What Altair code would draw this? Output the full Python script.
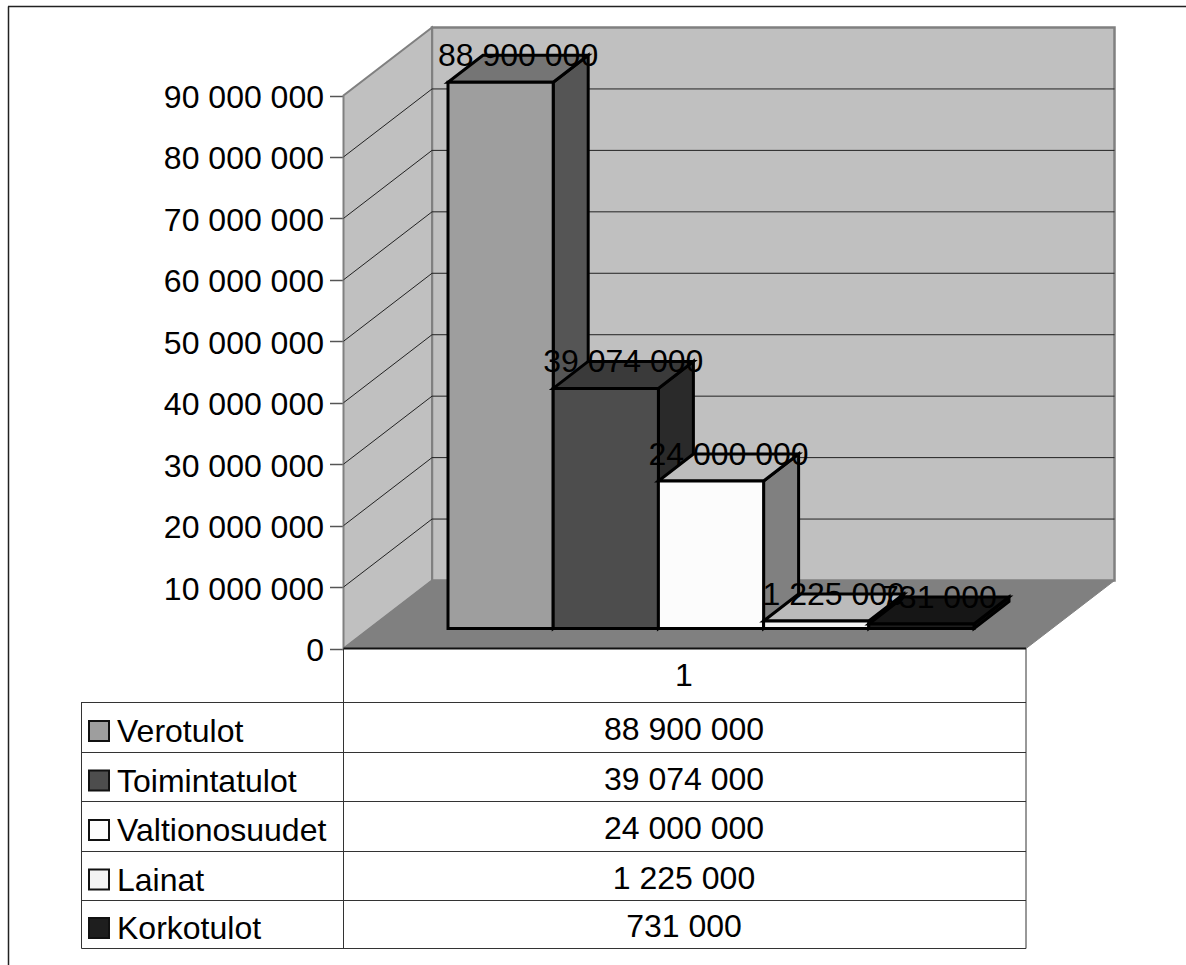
import altair as alt
import pandas as pd

# Series shown in the bars and in the data table
SERIES = ["Verotulot", "Toimintatulot", "Valtionosuudet", "Lainat", "Korkotulot"]
VALUES = [88900000, 39074000, 24000000, 1225000, 731000]
AXIS_TICKS = [0, 10000000, 20000000, 30000000, 40000000, 50000000,
              60000000, 70000000, 80000000, 90000000]
GRID_VALUES = AXIS_TICKS[1:-1]

# Shades per series: front, top and side faces of each block
FRONT = ["#9E9E9E", "#4D4D4D", "#FCFCFC", "#F3F3F3", "#1E1E1E"]
TOP = ["#757575", "#3A3A3A", "#BDBDBD", "#BBBBBB", "#161616"]
SIDE = ["#555555", "#2A2A2A", "#808080", "#777777", "#0F0F0F"]

# Canvas and projection layout
W, H = 1186, 965
FONT = "Liberation Sans"
FS = 32
ZERO_PX = 648.5
UNITS_PER_PX = 90000000 / 553.0
SLOT_PX = 105.2
FIRST_BAR_PX = 448.0


def ux(px):
    return (px - FIRST_BAR_PX) / SLOT_PX


def uy(px):
    return (ZERO_PX - px) * UNITS_PER_PX


x_scale = alt.Scale(domain=[ux(0), ux(W)], range=[0, W], nice=False, zero=False)
y_scale = alt.Scale(domain=[uy(H), uy(0)], range=[H, 0], nice=False, zero=False)

# Every layer shares this value axis, drawn on the left wall's front edge
value_axis = alt.Axis(
    values=AXIS_TICKS, title=None, domain=False, grid=False, offset=-343.5,
    tickSize=14, tickColor="#555555", tickWidth=1.5, labelPadding=6, labelOffset=2,
    labelFont=FONT, labelFontSize=FS, labelColor="#000000", labelOverlap=False,
    labelExpr="replace(format(datum.value, ','), /,/g, ' ')")

X = lambda f: alt.X(f, type="quantitative", scale=x_scale, axis=None)
Y = lambda f: alt.Y(f, type="quantitative", scale=y_scale, axis=value_axis)

# Depths of the box and of the blocks, and the blocks' setback from the front edge
WALL_L, WALL_R_FRONT = ux(343.5), ux(1026.0)
WALL_DX, WALL_DY = 88.5 / SLOT_PX, 68 * UNITS_PER_PX
BAR_DX, BAR_DY = 35.0 / SLOT_PX, 27 * UNITS_PER_PX
BAR_BASE = 20 * UNITS_PER_PX
WALL_TOP = AXIS_TICKS[-1]


def vert_face(x0, x1, low, high, rise):
    """Parallelogram with vertical edges, leaning back by `rise`."""
    return pd.DataFrame({"x": [x0, x1], "y": [low, low + rise], "y2": [high, high + rise]})


def horiz_face(x0, x1, y, dx, rise):
    """Parallelogram with horizontal edges, leaning back by (dx, rise)."""
    return pd.DataFrame({"y": [y, y + rise], "x": [x0, x0 + dx], "x2": [x1, x1 + dx]})


def v_area(df, fill, stroke, sw):
    return alt.Chart(df).mark_area(fill=fill, stroke=stroke, strokeWidth=sw, interpolate="linear",
                                   orient="vertical", opacity=1).encode(
        x=X("x"), y=Y("y"), y2=alt.Y2("y2"))


def h_area(df, fill, stroke, sw):
    return alt.Chart(df).mark_area(fill=fill, stroke=stroke, strokeWidth=sw, interpolate="linear",
                                   orient="horizontal", opacity=1).encode(
        y=Y("y"), x=X("x"), x2=alt.X2("x2"))


# Box: left wall, back wall, floor
back_x0 = WALL_L + WALL_DX
back_x1 = WALL_R_FRONT + WALL_DX
left_wall = v_area(vert_face(WALL_L, back_x0, 0, WALL_TOP, WALL_DY), "#C0C0C0", "#808080", 2)
back_wall = v_area(vert_face(back_x0, back_x1, WALL_DY, WALL_TOP + WALL_DY, 0),
                   "#C0C0C0", "#808080", 2.5)
floor = h_area(horiz_face(WALL_L, WALL_R_FRONT, 0, WALL_DX, WALL_DY), "#808080", "#808080", 1)

# Grid lines run across the left wall and along the back wall
grid_rows = []
for v in GRID_VALUES:
    grid_rows += [{"g": v, "o": 0, "x": WALL_L, "y": v},
                  {"g": v, "o": 1, "x": back_x0, "y": v + WALL_DY},
                  {"g": v, "o": 2, "x": back_x1, "y": v + WALL_DY}]
grid = alt.Chart(pd.DataFrame(grid_rows)).mark_line(color="#222222", strokeWidth=1).encode(
    x=X("x"), y=Y("y"), detail="g:N", order="o:Q")

# Line under the front of the floor
floor_edge = alt.Chart(pd.DataFrame({"x": [WALL_L], "x2": [WALL_R_FRONT], "y": [0]})).mark_rule(
    color="#111111", strokeWidth=2).encode(x=X("x"), x2=alt.X2("x2"), y=Y("y"))

# Blocks, left to right so that each one overlaps its neighbour's side
blocks = []
for i, val in enumerate(VALUES):
    low, high = BAR_BASE, BAR_BASE + val
    edge = "#000000"
    side = v_area(vert_face(i + 1, i + 1 + BAR_DX, low, high, BAR_DY), SIDE[i], edge, 3)
    top = h_area(horiz_face(i, i + 1, high, BAR_DX, BAR_DY), TOP[i], edge, 3)
    front = alt.Chart(pd.DataFrame({"x": [i], "x2": [i + 1], "y": [low], "y2": [high]})).mark_rect(
        fill=FRONT[i], stroke=edge, strokeWidth=3).encode(
        x=X("x"), x2=alt.X2("x2"), y=Y("y"), y2=alt.Y2("y2"))
    blocks += [side, top, front]


def fmt(v):
    return f"{v:,}".replace(",", " ")


value_labels = alt.Chart(pd.DataFrame({
    "x": [i + 0.5 + BAR_DX / 2 for i in range(len(VALUES))],
    "y": [BAR_BASE + v + BAR_DY for v in VALUES],
    "t": [fmt(v) for v in VALUES],
})).mark_text(font=FONT, fontSize=FS, color="#000000", align="center", baseline="middle", dy=1).encode(
    x=X("x"), y=Y("y"), text="t:N")

# Data table under the plot
ROW_EDGES = [702, 752, 801, 851, 900, 948]
TABLE_L, TABLE_M, TABLE_R = 81.5, 343.5, 1026.0
CELL_X = 684.0
LABEL_X = 117.0
SWATCH_X0, SWATCH_X1 = 89.0, 109.0

h_rules = alt.Chart(pd.DataFrame({
    "x": [ux(TABLE_L)] * len(ROW_EDGES), "x2": [ux(TABLE_R)] * len(ROW_EDGES),
    "y": [uy(e + 0.5) for e in ROW_EDGES]})).mark_rule(color="#333333", strokeWidth=1).encode(
    x=X("x"), x2=alt.X2("x2"), y=Y("y"))
v_rules = alt.Chart(pd.DataFrame({
    "x": [ux(TABLE_L), ux(TABLE_M), ux(TABLE_R)],
    "y": [uy(ROW_EDGES[0]), 0, 0],
    "y2": [uy(ROW_EDGES[-1] + 0.5)] * 3})).mark_rule(color="#333333", strokeWidth=1).encode(
    x=X("x"), y=Y("y"), y2=alt.Y2("y2"))

centres = [(a + b) / 2 for a, b in zip(ROW_EDGES[:-1], ROW_EDGES[1:])]
swatches = alt.Chart(pd.DataFrame({
    "x": [ux(SWATCH_X0)] * 5, "x2": [ux(SWATCH_X1)] * 5,
    "y": [uy(c + 14) for c in centres], "y2": [uy(c - 6) for c in centres],
    "c": FRONT})).mark_rect(stroke="#111111", strokeWidth=2).encode(
    x=X("x"), x2=alt.X2("x2"), y=Y("y"), y2=alt.Y2("y2"),
    fill=alt.Fill("c:N", scale=None))
row_labels = alt.Chart(pd.DataFrame({
    "x": [ux(LABEL_X)] * 5, "y": [uy(c + 5) for c in centres], "t": SERIES})).mark_text(
    font=FONT, fontSize=FS, align="left", baseline="middle", color="#000000").encode(
    x=X("x"), y=Y("y"), text="t:N")
row_values = alt.Chart(pd.DataFrame({
    "x": [ux(CELL_X)] * 5, "y": [uy(c + 3) for c in centres], "t": [fmt(v) for v in VALUES]})).mark_text(
    font=FONT, fontSize=FS, align="center", baseline="middle", color="#000000").encode(
    x=X("x"), y=Y("y"), text="t:N")
head_label = alt.Chart(pd.DataFrame({"x": [ux(CELL_X)], "y": [uy(676)], "t": ["1"]})).mark_text(
    font=FONT, fontSize=FS, align="center", baseline="middle", color="#000000").encode(
    x=X("x"), y=Y("y"), text="t:N")

# Frame lines along the top and left of the page
frame_top = alt.Chart(pd.DataFrame({"x": [ux(8)], "x2": [ux(W)], "y": [uy(6.5)]})).mark_rule(
    color="#222222", strokeWidth=1.5).encode(x=X("x"), x2=alt.X2("x2"), y=Y("y"))
frame_left = alt.Chart(pd.DataFrame({"x": [ux(8.5)], "y": [uy(6.5)], "y2": [uy(H)]})).mark_rule(
    color="#222222", strokeWidth=1.5).encode(x=X("x"), y=Y("y"), y2=alt.Y2("y2"))

chart = alt.layer(
    back_wall, left_wall, floor, grid, floor_edge, *blocks, value_labels,
    h_rules, v_rules, swatches, row_labels, row_values, head_label, frame_top, frame_left,
).properties(
    width=W, height=H, padding=0, background="#FFFFFF",
    autosize=alt.AutoSizeParams(type="none"),
).configure_view(stroke=None)

chart.save("out.html", embed_options={"renderer": "svg", "actions": False})
